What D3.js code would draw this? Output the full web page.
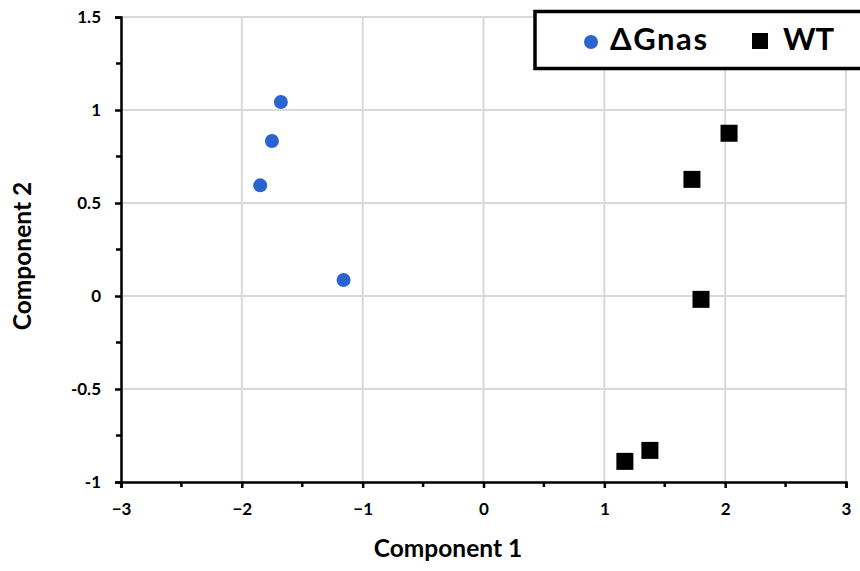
<!DOCTYPE html>
<html><head><meta charset="utf-8">
<script src="https://cdn.jsdelivr.net/npm/d3@7"></script>
<style>body{margin:0;background:#fff}svg{display:block;font-family:Lato,"Open Sans",sans-serif}</style>
</head><body><svg id="c" width="860" height="571"></svg>
<script>
const seriesNames = ["ΔGnas", "WT"];
const gnasX = [-1.677, -1.751, -1.848, -1.158];
const gnasY = [1.043, 0.833, 0.595, 0.086];
const wtX = [2.032, 1.725, 1.800, 1.170, 1.377];
const wtY = [0.875, 0.627, -0.018, -0.889, -0.830];
const xTicks = [-3, -2, -1, 0, 1, 2, 3];
const yTicks = [-1, -0.5, 0, 0.5, 1, 1.5];
const xMinor = [-2.5, -1.5, -0.5, 0.5, 1.5, 2.5];
const yMinor = [-0.75, -0.25, 0.25, 0.75, 1.25];

const svg = d3.select("#c");
const x = d3.scaleLinear().domain([-3, 3]).range([121, 846]);
const y = d3.scaleLinear().domain([-1, 1.5]).range([482, 17]);

// gridlines
svg.append("g").selectAll("line.v").data(xTicks.slice(1)).join("line")
  .attr("x1", d => x(d)).attr("x2", d => x(d)).attr("y1", y(-1)).attr("y2", y(1.5))
  .attr("stroke", "#d9d9d9").attr("stroke-width", 2);
svg.append("g").selectAll("line.h").data(yTicks.slice(1)).join("line")
  .attr("x1", x(-3)).attr("x2", x(3)).attr("y1", d => y(d)).attr("y2", d => y(d))
  .attr("stroke", "#d9d9d9").attr("stroke-width", 2);

// axes
const xAxis = svg.append("g").attr("transform", `translate(0,${y(-1)})`)
  .call(d3.axisBottom(x).tickValues(xTicks).tickFormat(d3.format("d")).tickSize(6).tickPadding(15));
const yAxis = svg.append("g").attr("transform", `translate(${x(-3)},0)`)
  .call(d3.axisLeft(y).tickValues(yTicks).tickFormat(d => d).tickSize(6).tickPadding(14));
[xAxis, yAxis].forEach(a => {
  a.select(".domain").attr("stroke", "#000").attr("stroke-width", 2.5);
  a.selectAll(".tick line").attr("stroke", "#000").attr("stroke-width", 2.5);
  a.selectAll(".tick text").attr("font-size", 17).attr("font-weight", "bold").attr("fill", "#000")
   .attr("font-family", "Lato, 'Open Sans', sans-serif");
});
svg.append("g").selectAll("line").data(xMinor).join("line")
  .attr("x1", d => x(d)).attr("x2", d => x(d)).attr("y1", y(-1)).attr("y2", y(-1) + 5)
  .attr("stroke", "#000").attr("stroke-width", 2.5);
svg.append("g").selectAll("line").data(yMinor).join("line")
  .attr("x1", x(-3) - 5).attr("x2", x(-3)).attr("y1", d => y(d)).attr("y2", d => y(d))
  .attr("stroke", "#000").attr("stroke-width", 2.5);

// axis titles
svg.append("text").attr("x", 448).attr("y", 557).attr("text-anchor", "middle")
  .attr("font-size", 24.5).attr("font-weight", "bold").text("Component 1");
svg.append("text").attr("transform", "translate(31,256) rotate(-90)").attr("text-anchor", "middle")
  .attr("font-size", 24.5).attr("font-weight", "bold").text("Component 2");

// points
svg.append("g").selectAll("circle").data(gnasX.map((v, i) => [v, gnasY[i]])).join("circle")
  .attr("cx", d => x(d[0])).attr("cy", d => y(d[1])).attr("r", 7).attr("fill", "#2b64cf");
const s = 17;
svg.append("g").selectAll("rect").data(wtX.map((v, i) => [v, wtY[i]])).join("rect")
  .attr("x", d => x(d[0]) - s / 2).attr("y", d => y(d[1]) - s / 2).attr("width", s).attr("height", s)
  .attr("fill", "#000");

// legend
const lg = svg.append("g");
lg.append("rect").attr("x", 535).attr("y", 11.5).attr("width", 340).attr("height", 57)
  .attr("fill", "#fff").attr("stroke", "#000").attr("stroke-width", 3.5);
lg.append("circle").attr("cx", 591).attr("cy", 42).attr("r", 7).attr("fill", "#2b64cf");
lg.append("text").attr("x", 610).attr("y", 50).attr("font-size", 31).attr("font-weight", "bold")
  .attr("textLength", 97).text(seriesNames[0]);
lg.append("rect").attr("x", 752).attr("y", 33).attr("width", 16).attr("height", 16).attr("fill", "#000");
lg.append("text").attr("x", 783).attr("y", 50).attr("font-size", 31).attr("font-weight", "bold").text(seriesNames[1]);
</script></body></html>
